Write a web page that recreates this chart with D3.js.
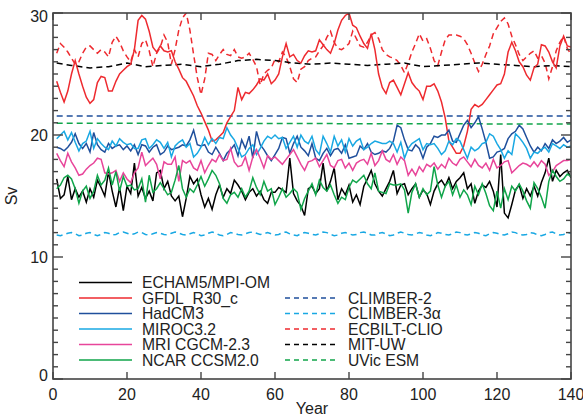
<!DOCTYPE html>
<html>
<head>
<meta charset="utf-8">
<script src="https://cdn.jsdelivr.net/npm/d3@7"></script>
<style>
  body { margin: 0; background: #fff; }
  text { font-family: "Liberation Sans", Arial, sans-serif; fill: #222; }
</style>
</head>
<body>
<svg id="chart"></svg>
<script>
// model years (annual) and coarse grids for the near-flat models
var years = d3.range(1, 141);
var years5 = [1, 5, 10, 15, 20, 25, 30, 35, 40, 45, 50, 55, 60, 65, 70, 75, 80, 85, 90, 95, 100, 105, 110, 115, 120, 125, 130, 135, 140];
var yearsFlat = [1, 140];

var yTicks = [0, 10, 20, 30];
var xTicks = [0, 20, 40, 60, 80, 100, 120, 140];

// AMOC strength (Sv)
var echam = [
  16.4, 14.8, 15.1, 16.6, 14.7, 15.6, 14.9, 15.4, 14.5, 15.6,
  14.9, 16.3, 15.7, 15.0, 17.0, 15.4, 14.1, 15.7, 13.8, 15.8,
  15.2, 17.7, 15.0, 15.7, 14.8, 15.4, 14.6, 16.9, 17.1, 15.6,
  16.2, 15.0, 14.6, 15.0, 13.3, 14.8, 16.6, 16.0, 16.4, 15.1,
  14.1, 14.8, 13.9, 15.1, 15.9, 14.9, 15.6, 15.2, 16.3, 15.9,
  15.4, 14.7, 15.3, 15.6, 15.0, 15.4, 14.7, 14.4, 15.3, 15.3,
  15.7, 15.5, 15.3, 18.1, 15.2, 14.6, 14.2, 13.4, 15.6, 15.8,
  15.2, 15.6, 17.7, 15.4, 16.2, 17.3, 14.7, 15.6, 15.1, 15.9,
  14.5, 15.1, 14.3, 15.8, 16.4, 17.1, 16.0, 15.4, 15.0, 15.6,
  16.2, 17.1, 15.2, 15.9, 16.0, 15.1, 15.6, 16.0, 14.9, 15.5,
  15.2, 14.3, 15.4, 16.0, 16.3, 15.8, 16.5, 15.6, 16.2, 16.5,
  16.9, 15.6, 16.0, 14.4, 15.4, 15.9, 15.7, 16.2, 15.4, 14.1,
  18.4, 13.6, 13.2, 14.3, 15.5, 15.9, 14.8, 15.6, 15.0, 15.8,
  15.0, 16.1, 16.9, 18.1, 16.2, 17.1, 16.6, 16.9, 17.1, 16.5
];
var gfdl = [
  24.4, 23.5, 22.7, 23.6, 25.0, 26.1, 25.0, 24.0, 23.1, 22.6,
  22.9, 24.3, 24.8, 24.7, 23.6, 23.6, 24.4, 25.0, 25.3, 25.6,
  25.8, 27.0, 29.4, 29.8, 29.5, 28.5, 27.2, 26.8, 27.3, 26.9,
  26.8, 26.9, 26.0, 25.4, 24.7, 24.4, 23.8, 23.2, 22.4, 21.8,
  21.1, 20.4, 19.5, 19.6, 19.9, 20.2, 21.0, 21.5, 22.0, 23.9,
  22.9, 23.5, 23.4, 23.7, 24.1, 24.6, 24.5, 25.0, 24.2, 24.5,
  25.0, 26.4, 27.5, 26.4, 26.6, 26.1, 25.9, 26.5, 26.9, 26.8,
  26.9, 27.8, 27.4, 27.0, 26.7, 27.5, 28.6, 29.4, 29.8, 30.0,
  29.0, 28.8, 28.1, 27.5, 27.1, 28.3, 27.0, 25.0, 23.9, 23.4,
  24.3, 24.5, 23.9, 23.3, 24.2, 25.1, 24.3, 23.9, 23.6, 22.9,
  24.0, 24.0, 24.2, 23.6, 22.7, 21.4, 19.5, 19.0, 18.5, 18.5,
  19.1, 20.3, 22.1, 22.5, 22.3, 22.5, 22.9, 23.3, 23.7, 24.1,
  24.2, 25.0, 26.8, 27.6, 26.9, 26.0, 25.6, 24.9, 24.5, 25.5,
  25.8, 27.4, 27.3, 26.8, 26.0, 25.5, 27.3, 28.1, 27.3, 27.2
];
var hadcm3 = [
  19.0, 18.9, 18.7, 19.0, 19.4, 20.1, 19.3, 18.9, 19.3, 18.6,
  20.2, 19.2, 18.8, 18.6, 19.3, 18.9, 19.1, 19.2, 18.8, 19.1,
  18.7, 19.2, 18.4, 19.2, 19.1, 18.6, 19.0, 19.2, 18.4, 18.6,
  19.1, 18.8, 18.9, 19.0, 19.2, 19.1, 19.6, 20.4, 19.2, 19.1,
  19.2, 18.6, 18.4, 19.0, 18.5, 17.9, 18.5, 18.8, 19.2, 18.3,
  19.6, 18.9, 19.9, 18.1, 20.3, 19.2, 18.8, 18.3, 17.9, 18.4,
  18.9, 19.8, 19.7, 18.5, 19.3, 19.9, 19.0, 18.7, 18.3, 19.3,
  18.1, 17.9, 18.5, 18.9, 18.3, 18.8, 18.9, 18.5, 19.2, 18.1,
  18.2, 18.3, 19.1, 18.8, 19.3, 18.6, 18.4, 18.5, 18.7, 18.6,
  18.9, 19.5, 20.8, 20.6, 19.6, 18.8, 18.7, 19.2, 18.9, 18.1,
  19.0, 19.3, 19.9, 19.8, 20.0, 20.0, 20.4, 19.5, 19.4, 20.1,
  20.8, 21.2, 20.6, 21.0, 21.5, 20.5, 19.4, 18.1, 18.2, 18.6,
  18.7, 18.9, 19.7, 20.1, 20.3, 20.8, 20.5, 19.8, 19.1, 18.6,
  19.0, 18.7, 19.3, 18.9, 19.6, 19.3, 19.5, 19.8, 19.4, 19.6
];
var miroc = [
  19.7, 20.0, 20.3, 19.6, 20.2, 19.4, 18.7, 19.3, 19.5, 20.3,
  18.9, 19.7, 19.3, 19.0, 18.8, 19.5, 19.1, 19.7, 19.4, 19.2,
  19.3, 18.9, 18.9, 19.6, 19.7, 18.9, 19.2, 19.6, 19.4, 18.9,
  19.4, 18.2, 19.1, 19.4, 19.6, 19.0, 19.3, 18.2, 18.5, 19.0,
  19.8, 19.2, 19.7, 19.3, 19.8, 19.7, 20.6, 20.0, 19.6, 18.9,
  18.2, 18.4, 18.9, 19.2, 18.4, 18.9, 19.5, 19.9, 19.7, 20.0,
  19.7, 19.8, 18.9, 19.4, 19.9, 19.0, 20.0, 19.5, 19.3, 19.9,
  18.8, 18.4, 19.9, 19.3, 18.6, 19.9, 19.1, 19.6, 18.6, 19.7,
  19.1, 19.5, 19.7, 18.8, 19.0, 19.3, 19.5, 19.4, 19.3, 19.3,
  19.5, 19.3, 18.6, 19.4, 18.1, 18.9, 19.3, 19.5, 19.7, 18.8,
  19.3, 19.2, 19.3, 18.9, 18.4, 18.7, 19.5, 19.2, 19.7, 19.5,
  18.8, 18.1, 19.0, 18.7, 18.9, 19.3, 19.4, 20.1, 19.9, 19.3,
  18.8, 18.1, 18.7, 18.4, 20.1, 19.8, 19.4, 18.9, 18.1, 18.6,
  18.5, 18.8, 19.0, 18.6, 19.3, 19.1, 18.9, 19.2, 19.0, 19.1
];
var mri = [
  18.5, 17.9, 17.4, 18.5, 17.8, 17.3, 16.7, 16.8, 17.2, 17.5,
  17.7, 18.1, 18.0, 16.9, 16.8, 16.9, 17.1, 16.2, 16.9, 16.4,
  16.1, 16.9, 17.3, 18.6, 17.5, 17.8, 18.1, 17.6, 16.4, 17.8,
  17.6, 17.6, 18.2, 16.2, 17.9, 17.7, 17.9, 17.3, 17.1, 17.9,
  16.9, 17.5, 18.0, 17.8, 18.4, 17.9, 18.0, 18.9, 17.8, 17.4,
  17.5, 18.2, 17.1, 18.2, 18.8, 18.1, 17.3, 18.3, 18.0, 18.2,
  17.9, 17.6, 18.0, 18.4, 18.8, 18.2, 17.6, 17.1, 17.8, 17.9,
  18.1, 17.4, 17.9, 18.4, 17.5, 17.3, 17.9, 18.0, 17.3, 17.7,
  17.1, 17.7, 17.9, 18.0, 17.6, 18.5, 17.5, 17.9, 18.7, 18.0,
  17.8, 18.4, 17.6, 18.2, 17.9, 16.7, 17.2, 16.7, 17.4, 17.0,
  17.6, 17.4, 17.7, 17.2, 17.6, 17.3, 18.1, 17.7, 17.5, 18.0,
  18.2, 17.8, 17.4, 18.0, 17.5, 17.3, 17.7, 17.1, 18.0, 17.3,
  17.5, 17.8, 17.9, 16.9, 17.2, 17.5, 17.7, 17.6, 17.4, 17.8,
  17.4, 17.9, 17.6, 16.7, 17.0, 17.5, 17.7, 17.9, 17.9, 18.0
];
var ncar = [
  15.6, 15.9, 16.5, 16.7, 16.4, 15.6, 14.4, 15.4, 15.8, 14.8,
  15.4, 16.7, 15.9, 16.3, 17.3, 15.9, 17.0, 15.4, 16.6, 15.8,
  15.9, 15.5, 15.6, 16.4, 14.5, 16.7, 15.3, 15.6, 16.1, 15.6,
  15.1, 15.3, 16.3, 17.5, 15.6, 14.9, 15.6, 15.3, 15.9, 16.6,
  15.8, 16.4, 17.1, 16.7, 16.0, 14.8, 14.4, 15.1, 15.3, 14.9,
  15.6, 14.9, 15.4, 16.5, 15.7, 15.1, 16.2, 15.4, 15.6, 14.3,
  14.9, 15.6, 14.9, 15.2, 15.6, 15.3, 13.9, 14.8, 15.4, 16.0,
  15.1, 16.3, 15.7, 15.4, 15.9, 15.1, 14.4, 14.9, 14.7, 15.7,
  16.3, 16.1, 16.4, 16.7, 16.0, 15.6, 16.9, 15.4, 15.3, 15.2,
  16.0, 15.9, 15.9, 16.0, 15.5, 13.6, 15.3, 16.0, 14.9, 15.6,
  15.1, 15.4, 17.4, 15.9, 14.9, 15.8, 16.2, 15.1, 15.9, 14.9,
  15.5, 15.1, 14.3, 15.8, 15.1, 16.0, 15.2, 14.2, 13.8, 15.4,
  14.0, 15.6, 14.7, 15.8, 15.4, 16.0, 15.4, 14.6, 14.0, 16.1,
  15.6, 14.9, 14.0, 16.2, 17.1, 16.6, 16.2, 16.4, 16.8, 16.6
];
var ecbilt = [
  26.7, 27.5, 27.2, 26.8, 26.3, 25.8, 26.0, 26.7, 27.2, 27.3,
  27.0, 26.7, 27.0, 26.8, 26.4, 27.6, 28.1, 27.6, 26.9, 26.4,
  26.0, 27.0, 26.4, 27.5, 27.8, 26.9, 25.6, 26.7, 27.2, 28.2,
  27.6, 25.8, 27.0, 28.6, 29.6, 30.0, 28.6, 26.6, 24.7, 23.3,
  24.6, 26.7, 26.6, 26.1, 26.6, 27.0, 26.6, 26.5, 27.0, 26.4,
  26.3, 26.4, 26.7, 26.2, 25.6, 24.1, 25.0, 25.3, 25.5, 26.2,
  26.0, 26.8, 26.4, 25.6, 24.6, 24.3, 25.4, 25.6, 26.1, 26.3,
  26.4, 26.9, 27.3, 28.0, 28.5, 27.6, 27.1, 27.0, 27.2, 27.5,
  28.5, 27.9, 27.3, 27.2, 27.6, 28.2, 28.4, 27.9, 27.0, 26.6,
  26.4, 26.3, 26.1, 25.7, 25.1, 25.9, 26.8, 27.5, 28.3, 27.7,
  27.9, 27.1, 26.1, 25.7, 26.8, 27.8, 28.2, 28.2, 28.2, 28.1,
  27.9, 27.4, 26.7, 25.9, 25.2, 25.8, 26.6, 27.3, 28.3, 28.8,
  29.3, 29.6, 29.1, 28.1, 27.4, 26.6, 26.1, 26.4, 26.7, 26.9,
  26.3, 26.5, 25.9, 24.6, 25.6, 26.9, 27.6, 28.1, 27.1, 26.6
];
var climber3 = [
  11.8, 11.75, 11.85, 11.95, 12.0, 11.9, 11.75, 11.8, 11.95, 12.0,
  11.85, 11.75, 11.85, 12.0, 11.95, 11.8, 11.85, 12.0, 12.05, 11.95,
  11.85, 11.9, 12.05, 12.0, 11.85, 11.8, 11.9, 12.0, 11.95, 11.85,
  11.8, 11.95, 12.05, 11.95, 11.85, 11.8, 11.9, 12.0, 11.9, 11.75,
  11.8, 11.95, 12.05, 11.95, 11.8, 11.75, 11.85, 12.0, 11.95, 11.85,
  11.8, 11.9, 12.0, 12.05, 11.95, 11.85, 11.9, 12.0, 11.9, 11.8,
  11.85, 12.0, 12.05, 11.9, 11.8, 11.75, 11.9, 12.0, 11.95, 11.85,
  11.8, 11.9, 12.05, 12.0, 11.85, 11.75, 11.8, 11.95, 12.0, 11.9,
  11.8, 11.85, 12.0, 12.05, 11.95, 11.8, 11.8, 11.95, 12.0, 11.9,
  11.75, 11.8, 11.95, 12.05, 11.95, 11.85, 11.8, 11.9, 12.0, 11.95,
  11.8, 11.75, 11.85, 12.0, 11.95, 11.85, 11.8, 11.9, 12.05, 12.0,
  11.85, 11.8, 11.9, 12.0, 11.95, 11.8, 11.75, 11.9, 12.0, 11.95,
  11.85, 11.8, 11.9, 12.05, 12.0, 11.85, 11.8, 11.85, 12.0, 11.95,
  11.8, 11.75, 11.85, 12.0, 12.05, 11.9, 11.8, 11.85, 12.0, 11.95
];
var mituw = [25.9, 25.7, 25.5, 25.6, 25.9, 25.6, 25.7, 25.8, 25.6, 25.8, 26.1, 26.2, 26.1, 25.9, 25.8,
             25.9, 25.8, 25.7, 25.8, 25.9, 25.6, 25.7, 25.8, 25.9, 25.8, 25.7, 25.6, 25.7, 25.6];
var climber2 = [21.55, 21.55];
var uvic = [20.97, 20.9];

var series = [
  { name: "ECHAM5/MPI-OM", x: years, y: echam, color: "#000000", dash: null, col: 0, row: 0 },
  { name: "GFDL_R30_c", x: years, y: gfdl, color: "#ee2a2f", dash: null, col: 0, row: 1 },
  { name: "HadCM3", x: years, y: hadcm3, color: "#1f4f9c", dash: null, col: 0, row: 2 },
  { name: "MIROC3.2", x: years, y: miroc, color: "#19a8e3", dash: null, col: 0, row: 3 },
  { name: "MRI CGCM-2.3", x: years, y: mri, color: "#e8459a", dash: null, col: 0, row: 4 },
  { name: "NCAR CCSM2.0", x: years, y: ncar, color: "#10a54a", dash: null, col: 0, row: 5 },
  { name: "CLIMBER-2", x: yearsFlat, y: climber2, color: "#1f4f9c", dash: "6,4", col: 1, row: 1 },
  { name: "CLIMBER-3\u03b1", x: years, y: climber3, color: "#19a8e3", dash: "6,4", col: 1, row: 2 },
  { name: "ECBILT-CLIO", x: years, y: ecbilt, color: "#ee2a2f", dash: "6,4", col: 1, row: 3 },
  { name: "MIT-UW", x: years5, y: mituw, color: "#000000", dash: "6,4", col: 1, row: 4 },
  { name: "UVic ESM", x: yearsFlat, y: uvic, color: "#10a54a", dash: "6,4", col: 1, row: 5 }
];

var width = 583,
    height = 416;
var plot = { left: 53, right: 571, top: 13, bottom: 379 };

var svg = d3.select("#chart")
    .attr("width", width)
    .attr("height", height);

var x = d3.scaleLinear().domain([0, 140]).range([plot.left, plot.right]);
var y = d3.scaleLinear().domain([0, 30]).range([plot.bottom, plot.top]);

svg.append("clipPath").attr("id", "plotclip")
  .append("rect")
    .attr("x", plot.left).attr("y", plot.top)
    .attr("width", plot.right - plot.left).attr("height", plot.bottom - plot.top);

var line = d3.line()
    .x(function(d) { return x(d[0]); })
    .y(function(d) { return y(d[1]); });

// dashed models first, solid on top
var ordered = series.filter(function(s) { return s.dash; })
    .concat(series.filter(function(s) { return !s.dash; }));

svg.append("g")
    .attr("clip-path", "url(#plotclip)")
  .selectAll("path")
  .data(ordered)
  .enter().append("path")
    .attr("fill", "none")
    .attr("stroke", function(d) { return d.color; })
    .attr("stroke-width", 1.5)
    .attr("stroke-dasharray", function(d) { return d.dash; })
    .attr("d", function(d) { return line(d3.zip(d.x, d.y)); });

// frame
svg.append("rect")
    .attr("x", plot.left).attr("y", plot.top)
    .attr("width", plot.right - plot.left).attr("height", plot.bottom - plot.top)
    .attr("fill", "none")
    .attr("stroke", "#444")
    .attr("stroke-width", 1.6);

// y ticks: minor every 1 Sv, major every 10, on both sides
var axes = svg.append("g").attr("stroke", "#444").attr("stroke-width", 1.4);
d3.range(0, 31).forEach(function(v) {
  var len = v % 10 === 0 ? 10 : 5;
  axes.append("line").attr("x1", plot.left).attr("x2", plot.left + len).attr("y1", y(v)).attr("y2", y(v));
  axes.append("line").attr("x1", plot.right).attr("x2", plot.right - len).attr("y1", y(v)).attr("y2", y(v));
});
xTicks.forEach(function(t) {
  axes.append("line").attr("x1", x(t)).attr("x2", x(t)).attr("y1", plot.bottom).attr("y2", plot.bottom - 7);
  axes.append("line").attr("x1", x(t)).attr("x2", x(t)).attr("y1", plot.top).attr("y2", plot.top + 7);
});

// end labels sit a little inside the frame, as in the original
svg.selectAll(".ylab")
  .data(yTicks)
  .enter().append("text")
    .attr("class", "ylab")
    .attr("x", plot.left - 5)
    .attr("y", function(d) { return y(d) + 5.5 + (d === 30 ? 3 : d === 0 ? -4 : 0); })
    .attr("text-anchor", "end")
    .style("font-size", "16px")
    .text(function(d) { return d; });

svg.selectAll(".xlab")
  .data(xTicks)
  .enter().append("text")
    .attr("class", "xlab")
    .attr("x", function(d) { return x(d); })
    .attr("y", 400)
    .attr("text-anchor", "middle")
    .style("font-size", "16px")
    .text(function(d) { return d; });

svg.append("text")
    .attr("x", 312).attr("y", 414)
    .attr("text-anchor", "middle")
    .style("font-size", "16px")
    .text("Year");

svg.append("text")
    .attr("transform", "translate(17,196) rotate(-90)")
    .attr("text-anchor", "middle")
    .style("font-size", "16px")
    .text("Sv");

// legend
var colX = [79, 285],
    rowY = [282.5, 298, 313.5, 329, 344.5, 360];

var legend = svg.selectAll(".legend")
  .data(series)
  .enter().append("g")
    .attr("class", "legend")
    .attr("transform", function(d) { return "translate(" + colX[d.col] + "," + rowY[d.row] + ")"; });

legend.append("line")
    .attr("x1", 0).attr("x2", 53)
    .attr("stroke", function(d) { return d.color; })
    .attr("stroke-width", 1.6)
    .attr("stroke-dasharray", function(d) { return d.dash ? "5,4" : null; });

legend.append("text")
    .attr("x", 63)
    .attr("y", 5.5)
    .style("font-size", "15.7px")
    .text(function(d) { return d.name; });
</script>
</body>
</html>
